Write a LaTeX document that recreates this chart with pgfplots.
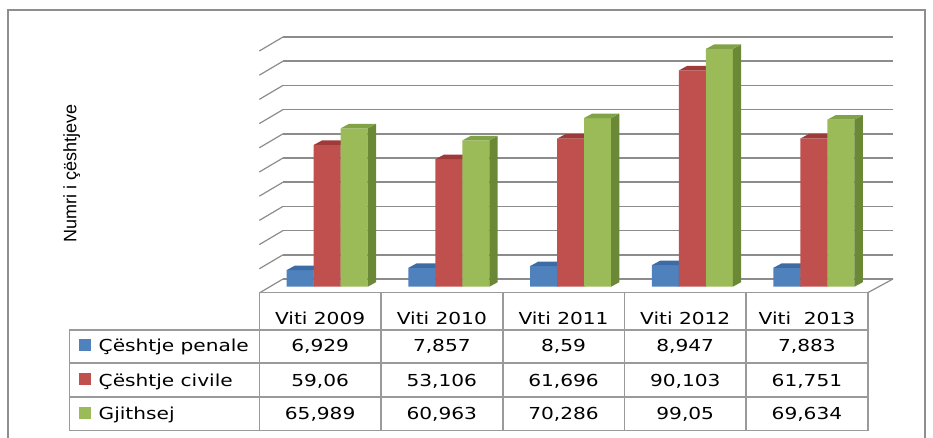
\documentclass[border=0pt]{standalone}
\usepackage{pgfplots}
\pgfplotsset{compat=1.18}
\usepackage{pgfplotstable}
\usepackage{fontspec}
\setmainfont{DejaVu Sans}
\newfontfamily\tabfont[FakeStretch=1.22]{DejaVu Sans}
\newfontfamily\labfont{Liberation Sans}

\definecolor{cblue}{HTML}{4F81BD}
\definecolor{cbluetop}{HTML}{3D6BA3}
\definecolor{cblueside}{HTML}{385D8A}
\definecolor{cred}{HTML}{C0504D}
\definecolor{credtop}{HTML}{9E3B39}
\definecolor{credside}{HTML}{8C3836}
\definecolor{cgreen}{HTML}{9BBB59}
\definecolor{cgreentop}{HTML}{82A247}
\definecolor{cgreenside}{HTML}{6A8836}
\definecolor{gridc}{HTML}{8C8C8C}
\definecolor{tabline}{HTML}{9A9A9A}
\definecolor{framec}{HTML}{8E8E8E}

\pgfplotstableread{
x pen civ tot
0 6.929 59.06 65.989
1 7.857 53.106 60.963
2 8.59 61.696 70.286
3 8.947 90.103 99.05
4 7.883 61.751 69.634
}\data

\def\bw{0.22186}
\def\ddx{0.0682}
\def\ddy{1.875}

% side and top faces of the bars of one series
\newcommand{\barfaces}[4]{%
  \pgfplotsforeachungrouped \i in {0,...,4}{%
    \pgfplotstablegetelem{\i}{#1}\of\data
    \pgfmathsetmacro\v{\pgfplotsretval}%
    \pgfmathsetmacro\xl{\i + (#2)*\bw - \bw/2}%
    \pgfmathsetmacro\xr{\xl+\bw}%
    \pgfmathsetmacro\xld{\xl+\ddx}%
    \pgfmathsetmacro\xrd{\xr+\ddx}%
    \pgfmathsetmacro\vd{\v+\ddy}%
    \edef\tmp{%
      \noexpand\addplot[fill=#3, draw=none, forget plot] coordinates {(\xr,0) (\xrd,\ddy) (\xrd,\vd) (\xr,\v)} -- cycle;
      \noexpand\addplot[fill=#4, draw=none, forget plot] coordinates {(\xl,\v) (\xr,\v) (\xrd,\vd) (\xld,\vd)} -- cycle;
    }%
    \tmp
  }%
}

\begin{document}
\begin{tikzpicture}
\begin{scope}[x=0.5pt,y=-0.5pt]
\useasboundingbox (0,0) rectangle (933,438);
% outer frame
\draw[line width=1pt, color=framec] (8,438) -- (8,10) -- (925,10) -- (925,438);
% back wall and side wall grid
\foreach \v in {0,10,...,100}{
  \draw[line width=0.75pt, color=gridc] (283,{279-2.42*\v}) -- (893,{279-2.42*\v});
  \draw[line width=0.6pt, color=gridc] (283,{279-2.42*\v}) -- (259.3,{293-2.42*\v});
}
\draw[line width=0.6pt, color=gridc] (867.7,292.7) -- (893,279);
\end{scope}

\begin{axis}[at={(133.175pt,-143.35pt)}, anchor=south west, scale only axis,
  width=304.25pt, height=120pt, xmin=-0.5, xmax=4.5, ymin=0, ymax=100,
  axis lines=none, clip=false]
\addplot[ybar, bar width=13.5pt, bar shift=-13.5pt, fill=cblue, draw=none] table[x=x,y=pen]{\data};
\barfaces{pen}{-1}{cblueside}{cbluetop}
\addplot[ybar, bar width=13.5pt, bar shift=0pt, fill=cred, draw=none] table[x=x,y=civ]{\data};
\barfaces{civ}{0}{credside}{credtop}
\addplot[ybar, bar width=13.5pt, bar shift=13.5pt, fill=cgreen, draw=none] table[x=x,y=tot]{\data};
\barfaces{tot}{1}{cgreenside}{cgreentop}
\end{axis}

\begin{scope}[x=0.5pt,y=-0.5pt]
% data table
\draw[line width=0.8pt, color=tabline] (259.3,292.7) -- (867.7,292.7);
\foreach \y in {330,363.3,397.3,430.7} \draw[line width=0.8pt, color=tabline] (69.3,\y) -- (867.7,\y);
\draw[line width=0.8pt, color=tabline] (69.3,330) -- (69.3,430.7);
\foreach \x in {259.3,381,502.7,624.3,746,867.7} \draw[line width=0.8pt, color=tabline] (\x,292.7) -- (\x,430.7);

\tikzset{tt/.style={anchor=base, inner sep=0pt, font=\tabfont\fontsize{8.25}{10}\selectfont}}
\node[tt] at (320.15,325) {Viti 2009};
\node[tt] at (441.85,325) {Viti 2010};
\node[tt] at (563.55,325) {Viti 2011};
\node[tt] at (685.25,325) {Viti 2012};
\node[tt] at (806.95,325) {Viti~ 2013};

\node[tt] at (320.15,351.5) {6,929};
\node[tt] at (441.85,351.5) {7,857};
\node[tt] at (563.55,351.5) {8,59};
\node[tt] at (685.25,351.5) {8,947};
\node[tt] at (806.95,351.5) {7,883};

\node[tt] at (320.15,386.5) {59,06};
\node[tt] at (441.85,386.5) {53,106};
\node[tt] at (563.55,386.5) {61,696};
\node[tt] at (685.25,386.5) {90,103};
\node[tt] at (806.95,386.5) {61,751};

\node[tt] at (320.15,420) {65,989};
\node[tt] at (441.85,420) {60,963};
\node[tt] at (563.55,420) {70,286};
\node[tt] at (685.25,420) {99,05};
\node[tt] at (806.95,420) {69,634};

% legend keys
\fill[cblue] (78.5,339.5) rectangle (90.5,351.5);
\fill[cred] (78.5,373.5) rectangle (90.5,385.5);
\fill[cgreen] (78.5,407.5) rectangle (90.5,419.5);
\node[tt, anchor=base west] at (98.3,351.5) {Çështje penale};
\node[tt, anchor=base west] at (98.3,386.5) {Çështje civile};
\node[tt, anchor=base west] at (98.3,420) {Gjithsej};

% y label
\node[rotate=90, inner sep=0pt, font=\labfont\fontsize{9}{11}\selectfont] at (71.7,173) {Numri i çështjeve};
\end{scope}
\end{tikzpicture}
\end{document}
